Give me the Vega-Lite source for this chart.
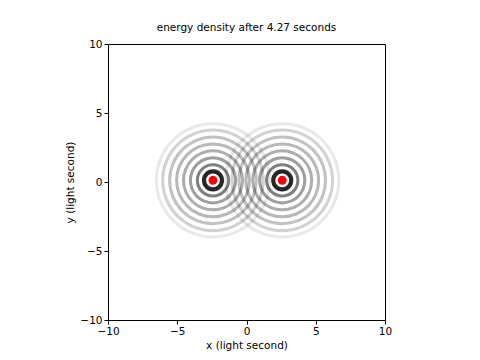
{
  "$schema": "https://vega.github.io/schema/vega-lite/v6.json",
  "width": 277,
  "height": 276,
  "autosize": "none",
  "padding": {"left": 108, "top": 44, "right": 95, "bottom": 40},
  "background": "white",
  "config": {
    "font": "DejaVu Sans",
    "view": {"stroke": "black", "strokeWidth": 1},
    "axis": {
      "grid": false,
      "domain": false,
      "ticks": true,
      "tickSize": 4,
      "tickColor": "black",
      "labelColor": "black",
      "labelFontSize": 10.5,
      "labelFont": "DejaVu Sans",
      "labelPadding": 2,
      "labelFlush": false,
      "labelBound": false,
      "titleFont": "DejaVu Sans",
      "titleFontSize": 10.5,
      "titleFontWeight": "normal",
      "titleColor": "black"
    }
  },
  "title": {
    "text": "energy density after 4.27 seconds",
    "fontSize": 10.5,
    "fontWeight": "normal",
    "font": "DejaVu Sans",
    "color": "black",
    "offset": 6
  },
  "datasets": {
    "rings": [
      {"cx": -2.42, "cy": 0.12, "r0": 0.5, "r1": 0.8, "e": 0.85},
      {"cx": -2.42, "cy": 0.12, "r0": 1.02, "r1": 1.24, "e": 0.5},
      {"cx": -2.42, "cy": 0.12, "r0": 1.52, "r1": 1.74, "e": 0.38},
      {"cx": -2.42, "cy": 0.12, "r0": 2.02, "r1": 2.24, "e": 0.32},
      {"cx": -2.42, "cy": 0.12, "r0": 2.52, "r1": 2.74, "e": 0.28},
      {"cx": -2.42, "cy": 0.12, "r0": 3.02, "r1": 3.24, "e": 0.24},
      {"cx": -2.42, "cy": 0.12, "r0": 3.52, "r1": 3.74, "e": 0.18},
      {"cx": -2.42, "cy": 0.12, "r0": 3.98, "r1": 4.2, "e": 0.09},
      {"cx": 2.58, "cy": 0.12, "r0": 0.5, "r1": 0.8, "e": 0.85},
      {"cx": 2.58, "cy": 0.12, "r0": 1.02, "r1": 1.24, "e": 0.5},
      {"cx": 2.58, "cy": 0.12, "r0": 1.52, "r1": 1.74, "e": 0.38},
      {"cx": 2.58, "cy": 0.12, "r0": 2.02, "r1": 2.24, "e": 0.32},
      {"cx": 2.58, "cy": 0.12, "r0": 2.52, "r1": 2.74, "e": 0.28},
      {"cx": 2.58, "cy": 0.12, "r0": 3.02, "r1": 3.24, "e": 0.24},
      {"cx": 2.58, "cy": 0.12, "r0": 3.52, "r1": 3.74, "e": 0.18},
      {"cx": 2.58, "cy": 0.12, "r0": 3.98, "r1": 4.2, "e": 0.09}
    ],
    "sources": [
      {"cx": -2.42, "cy": 0.12},
      {"cx": 2.58, "cy": 0.12}
    ]
  },
  "layer": [
    {
      "data": {"name": "rings"},
      "mark": {"type": "arc", "theta": 0, "theta2": 6.2832, "fill": "black"},
      "encoding": {
        "x": {
          "field": "cx",
          "type": "quantitative",
          "scale": {"domain": [-10, 10], "nice": false, "zero": false},
          "axis": {"values": [-10, -5, 0, 5, 10], "title": "x (light second)"}
        },
        "y": {
          "field": "cy",
          "type": "quantitative",
          "scale": {"domain": [-10, 10], "nice": false, "zero": false},
          "axis": {"values": [-10, -5, 0, 5, 10], "title": "y (light second)"}
        },
        "radius": {
          "field": "r0",
          "type": "quantitative",
          "scale": {"type": "linear", "domain": [0, 10], "range": [0, 138.5], "zero": true, "nice": false}
        },
        "radius2": {"field": "r1"},
        "opacity": {
          "field": "e",
          "type": "quantitative",
          "scale": {"domain": [0, 1], "range": [0, 1]},
          "legend": null
        }
      }
    },
    {
      "data": {"name": "sources"},
      "mark": {"type": "point", "filled": true, "shape": "circle", "size": 80, "color": "red", "opacity": 1},
      "encoding": {
        "x": {"field": "cx", "type": "quantitative"},
        "y": {"field": "cy", "type": "quantitative"}
      }
    }
  ]
}
